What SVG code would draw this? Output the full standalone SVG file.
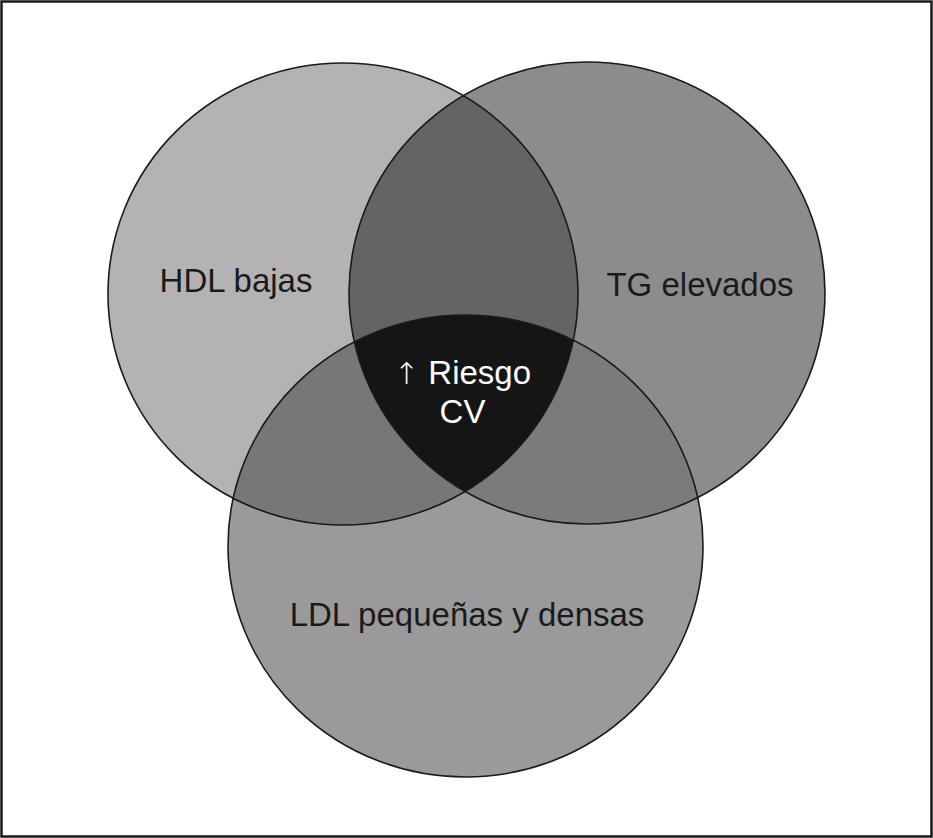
<svg xmlns="http://www.w3.org/2000/svg" width="933" height="838" viewBox="0 0 933 838">
<style>
.c{stroke:#1a1a1a;stroke-width:1.6}
.t{font-family:"Liberation Sans",Arial,sans-serif;font-size:33px;fill:#1a1a1a;text-anchor:middle}
.w{fill:#ffffff}
.a{font-family:"DejaVu Sans",sans-serif;font-size:30px;font-weight:200}
</style>
<defs>
<ellipse id="eL" cx="343" cy="294" rx="235" ry="231"/>
<ellipse id="eR" cx="587" cy="293" rx="238" ry="231"/>
<ellipse id="eB" cx="465.5" cy="546" rx="237.5" ry="231"/>
<clipPath id="cL"><use href="#eL"/></clipPath>
<clipPath id="cR"><use href="#eR"/></clipPath>
<clipPath id="cB"><use href="#eB"/></clipPath>
</defs>
<rect x="0" y="0" width="933" height="838" fill="#ffffff"/>
<rect x="1.5" y="1.5" width="930" height="835" fill="none" stroke="#1a1a1a" stroke-width="2.5"/>
<g id="fills">
<use href="#eL" fill="#b3b3b3"/>
<use href="#eR" fill="#8c8c8c"/>
<use href="#eB" fill="#9a9a9a"/>
<g clip-path="url(#cL)"><use href="#eR" fill="#646464"/></g>
<g clip-path="url(#cL)"><use href="#eB" fill="#777777"/></g>
<g clip-path="url(#cR)"><use href="#eB" fill="#7b7b7b"/></g>
<g clip-path="url(#cL)"><g clip-path="url(#cR)"><use href="#eB" fill="#151515"/></g></g>
</g>
<g id="hdl"><use href="#eL" class="c" fill="none"/><text class="t" x="236" y="292">HDL bajas</text></g>
<g id="tg"><use href="#eR" class="c" fill="none"/><text class="t" x="700" y="296">TG elevados</text></g>
<g id="ldl"><use href="#eB" class="c" fill="none"/><text class="t" x="467" y="626">LDL pequeñas y densas</text></g>
<g id="riesgo"><text class="t w" x="462.5" y="384"><tspan class="a">↑</tspan> Riesgo</text><text class="t w" x="462.5" y="423">CV</text></g>
</svg>
